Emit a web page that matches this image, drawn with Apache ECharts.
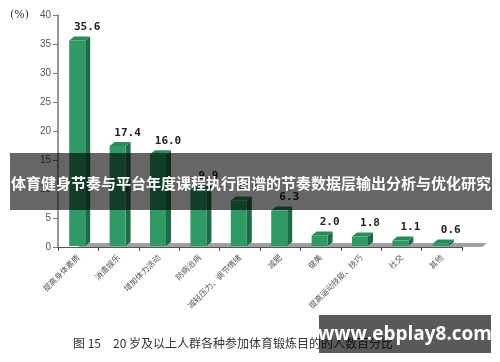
<!DOCTYPE html>
<html><head><meta charset="utf-8">
<script src="https://cdn.jsdelivr.net/npm/echarts@6/dist/echarts.min.js"></script>
<style>html,body{margin:0;padding:0;background:#fff}#c{width:500px;height:362px}</style>
</head><body><div id="c"></div>
<script>
const categories = ['提高身体素质','消遣娱乐','增加体力活动','防病治病','减轻压力、调节情绪','减肥','健美','提高运动技能、技巧','社交','其他'];
const values = [35.6, 17.4, 16.0, 9.9, 8.0, 6.3, 2.0, 1.8, 1.1, 0.6];
const yTicks = {min: 0, max: 40, interval: 5};
const unitLabel = '(%)';
const caption = '图 15　20 岁及以上人群各种参加体育锻炼目的的人数百分比';
const bannerText = '体育健身节奏与平台年度课程执行图谱的节奏数据层输出分析与优化研究';
const watermark = 'www.ebplay8.com';

const chart = echarts.init(document.getElementById('c'), null, {renderer: 'canvas'});
const DX = 5, DY = 4;
function barItem(params, api) {
  const i = api.value(0), v = api.value(1);
  const base = api.coord([i, 0]);
  const top = api.coord([i, v]);
  const l = base[0] - 9, r = l + 16;
  const b = base[1] - 1, t = top[1];
  return {type: 'group', children: [
    {type: 'polygon', shape: {points: [[r, b], [r + DX, b - DY], [r + DX, t - DY], [r, t]]}, style: {fill: '#1e6b45'}},
    {type: 'polygon', shape: {points: [[l, t], [l + DX, t - DY], [r + DX, t - DY], [r, t]]}, style: {fill: '#2b8a5a'}},
    {type: 'rect', shape: {x: l, y: t, width: 16, height: b - t}, style: {fill: '#2f9a66'}},
    {type: 'text', style: {text: v.toFixed(1), x: base[0] + 9, y: t - 13, align: 'center', verticalAlign: 'middle',
      font: 'bold 11px "DejaVu Sans Mono", monospace', fill: '#222'}}
  ]};
}
function floorItem(params, api) {
  const a = api.coord([-0.5, 0]), z = api.coord([categories.length - 0.5, 0]);
  return {type: 'group', children: [
    {type: 'polygon', shape: {points: [[a[0], a[1]], [a[0] + DX, a[1] - DY], [z[0] + DX, z[1] - DY], [z[0], z[1]]]}, style: {fill: '#a0a0a0'}}
  ]};
}
chart.setOption({
  animation: false,
  grid: {left: 58, right: 38, top: 15, bottom: 115},
  xAxis: {type: 'category', data: categories, boundaryGap: true,
    axisLine: {lineStyle: {color: '#555', width: 1}},
    axisTick: {show: true, alignWithLabel: false, length: 4, lineStyle: {color: '#555'}},
    axisLabel: {rotate: 45, interval: 0, fontSize: 8, color: '#555', margin: 9, fontFamily: '"Noto Sans CJK SC", sans-serif'}},
  yAxis: {type: 'value', min: yTicks.min, max: yTicks.max, interval: yTicks.interval,
    axisLine: {show: true, lineStyle: {color: '#777', width: 1.5}},
    axisTick: {show: true, length: 5, lineStyle: {color: '#777'}},
    splitLine: {show: false},
    axisLabel: {fontSize: 10, color: '#555', margin: 7, fontFamily: '"Liberation Sans", Arial, sans-serif'}},
  series: [
    {type: 'custom', renderItem: floorItem, data: [[0, 0]], z: 1, silent: true},
    {type: 'custom', renderItem: barItem, data: values.map((v, i) => [i, v]), z: 2}
  ],
  graphic: [
    {type: 'text', left: 10, top: 10, style: {text: unitLabel, font: '11px "DejaVu Serif", serif', fill: '#333'}},
    {type: 'text', left: 73, top: 337, style: {text: caption, font: '12px "Noto Sans CJK SC", sans-serif', fill: '#333'}},
    {type: 'rect', shape: {x: 10, y: 153, width: 482, height: 57}, style: {fill: 'rgba(0,0,0,0.6)'}, z: 100},
    {type: 'text', z: 101, style: {text: bannerText, x: 251, y: 183, align: 'center', verticalAlign: 'middle',
      font: 'bold 15px "Noto Sans CJK SC", sans-serif', fill: '#fff'}},
    {type: 'rect', shape: {x: 319, y: 315, width: 172, height: 38}, style: {fill: 'rgba(0,0,0,0.65)'}, z: 100},
    {type: 'text', z: 101, style: {text: watermark, x: 405, y: 335, align: 'center', verticalAlign: 'middle',
      font: 'bold 19px "Open Sans", sans-serif', fill: '#fff'}}
  ]
});
</script></body></html>
